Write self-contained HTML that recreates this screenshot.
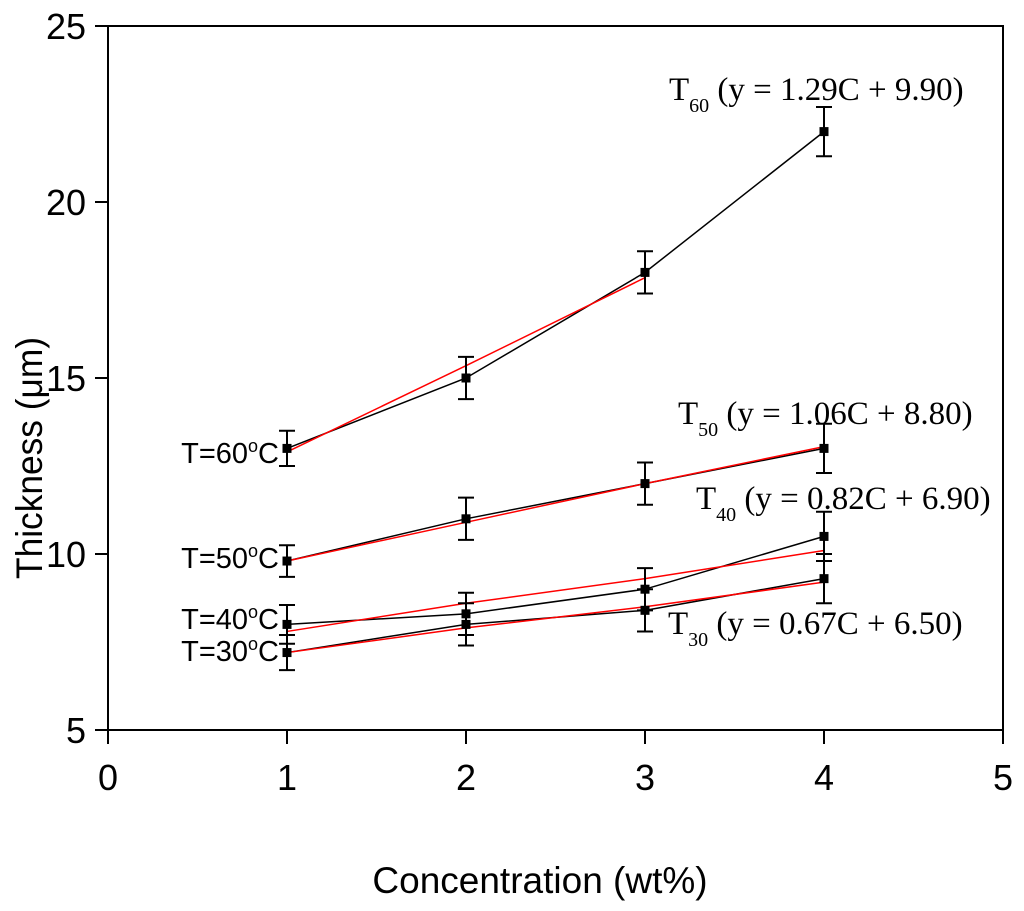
<!DOCTYPE html>
<html><head><meta charset="utf-8"><style>
body{margin:0;background:#fff}
svg{display:block}
.ax{font-family:"Liberation Sans",sans-serif;font-size:36px;fill:#000}
.tt{font-family:"Liberation Sans",sans-serif;font-size:37px;fill:#000}
.lb{font-family:"Liberation Sans",sans-serif;font-size:29px;fill:#000}
.eq{font-family:"Liberation Serif",serif;font-size:33px;fill:#000}
</style></head><body>
<svg id="chart" width="1024" height="911">
<g id="axes"></g><g id="marks"></g><g id="labels"></g>
</svg>
<script>
const xCats=[1,2,3,4];
const xTicks=[0,1,2,3,4,5];
const yTicks=[5,10,15,20,25];
const t60=[13,15,18,22], t60Err=[0.5,0.6,0.6,0.7], t60Fit=[12.9,15.35,17.85];
const t50=[9.8,11,12,13], t50Err=[0.45,0.6,0.6,0.7], t50Fit=[9.8,10.9,12.0,13.05];
const t40=[8.0,8.3,9.0,10.5], t40Err=[0.55,0.6,0.6,0.7], t40Fit=[7.8,8.6,9.3,10.1];
const t30=[7.2,8.0,8.4,9.3], t30Err=[0.5,0.6,0.6,0.7], t30Fit=[7.2,7.9,8.5,9.2];

const NS="http://www.w3.org/2000/svg";
const X=v=>108+v*179, Y=v=>730-(v-5)*35.2;
function mk(tag,attrs,parent,txt){const e=document.createElementNS(NS,tag);for(const k in attrs)e.setAttribute(k,attrs[k]);if(txt!==undefined)e.textContent=txt;document.getElementById(parent).appendChild(e);return e;}
let f=mk('rect',{x:108,y:26,width:895,height:704,fill:'none',stroke:'#000','stroke-width':2},'axes');


xTicks.forEach(t=>{
  let l=mk('line',{x1:X(t),x2:X(t),y1:730,y2:744,stroke:'#000','stroke-width':2},'axes');
  
  
  let tx=mk('text',{x:X(t),y:790,'text-anchor':'middle',class:'ax'},'axes',t);
  
  
});
yTicks.forEach(t=>{
  let l=mk('line',{x1:95,x2:108,y1:Y(t),y2:Y(t),stroke:'#000','stroke-width':2},'axes');
  
  
  let tx=mk('text',{x:86,y:Y(t)+13,'text-anchor':'end',class:'ax'},'axes',t);
  
  
});
let xt=mk('text',{x:540,y:893,'text-anchor':'middle',class:'tt'},'axes','Concentration (wt%)');


let yt=mk('text',{x:0,y:0,'text-anchor':'middle',class:'tt',textLength:242,lengthAdjust:'spacingAndGlyphs',transform:'translate(42,458) rotate(-90)'},'axes','Thickness (\u03bcm)');



function series(name,vals,errs,fit){
  let pts=vals.map((v,i)=>X(xCats[i])+','+Y(v)).join(' ');
  let pl=mk('polyline',{points:pts,fill:'none',stroke:'#000','stroke-width':1.5},'marks');
  
  
  let fp=fit.map((v,i)=>X(xCats[i])+','+Y(v)).join(' ');
  let rl=mk('polyline',{points:fp,fill:'none',stroke:'#f00','stroke-width':1.5},'marks');
  
  
  vals.forEach((v,i)=>{
    const x=X(xCats[i]),e=errs[i];
    let eb=mk('path',{d:`M${x},${Y(v+e)}V${Y(v-e)}M${x-8},${Y(v+e)}H${x+8}M${x-8},${Y(v-e)}H${x+8}`,stroke:'#000','stroke-width':2,fill:'none'},'marks');
    
    
    let m=mk('rect',{x:x-4.5,y:Y(v)-4.5,width:9,height:9,fill:'#000'},'marks');
    
    
  });
}
series('t60',t60,t60Err,t60Fit);
series('t50',t50,t50Err,t50Fit);
series('t40',t40,t40Err,t40Fit);
series('t30',t30,t30Err,t30Fit);
</script>
<svg style="position:absolute;left:0;top:0" width="1024" height="911">
<text class="lb" x="279" y="463" text-anchor="end">T=60<tspan dy="-11" font-size="18">o</tspan><tspan dy="11">C</tspan></text>
<text class="lb" x="279" y="568" text-anchor="end">T=50<tspan dy="-11" font-size="18">o</tspan><tspan dy="11">C</tspan></text>
<text class="lb" x="279" y="629" text-anchor="end">T=40<tspan dy="-11" font-size="18">o</tspan><tspan dy="11">C</tspan></text>
<text class="lb" x="279" y="661" text-anchor="end">T=30<tspan dy="-11" font-size="18">o</tspan><tspan dy="11">C</tspan></text>
<text class="eq" x="669" y="100">T<tspan dy="12" font-size="20">60</tspan><tspan dy="-12"> (y = 1.29C + 9.90)</tspan></text>
<text class="eq" x="678" y="424">T<tspan dy="12" font-size="20">50</tspan><tspan dy="-12"> (y = 1.06C + 8.80)</tspan></text>
<text class="eq" x="696" y="509">T<tspan dy="12" font-size="20">40</tspan><tspan dy="-12"> (y = 0.82C + 6.90)</tspan></text>
<text class="eq" x="668" y="634">T<tspan dy="12" font-size="20">30</tspan><tspan dy="-12"> (y = 0.67C + 6.50)</tspan></text>
</svg>
</body></html>
